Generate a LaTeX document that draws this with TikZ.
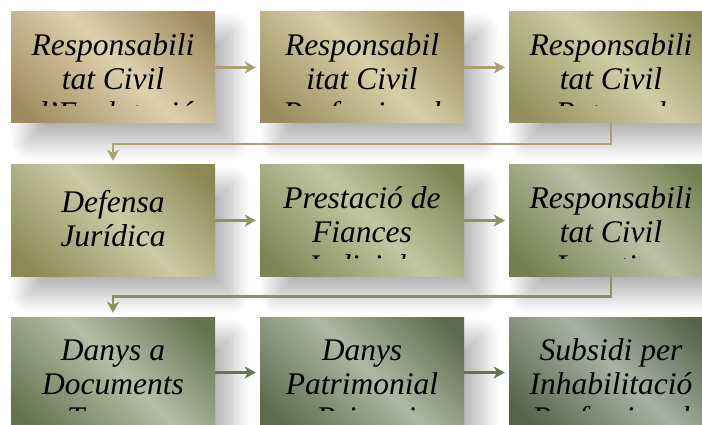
\documentclass[tikz,border=0pt]{standalone}
\usepackage{fontspec}
\setmainfont{Liberation Serif}
\usetikzlibrary{arrows.meta,calc,shadows.blur}

\definecolor{darkone}{RGB}{158,140,96}
\definecolor{lightone}{RGB}{222,209,173}
\definecolor{darktwo}{RGB}{152,140,93}
\definecolor{lighttwo}{RGB}{216,206,166}
\definecolor{darkthree}{RGB}{146,143,92}
\definecolor{lightthree}{RGB}{208,204,164}
\definecolor{darkfour}{RGB}{136,137,84}
\definecolor{lightfour}{RGB}{203,203,167}
\definecolor{darkfive}{RGB}{126,133,84}
\definecolor{lightfive}{RGB}{194,199,162}
\definecolor{darksix}{RGB}{116,127,82}
\definecolor{lightsix}{RGB}{187,192,162}
\definecolor{darkseven}{RGB}{102,116,78}
\definecolor{lightseven}{RGB}{181,189,167}
\definecolor{darkeight}{RGB}{92,107,76}
\definecolor{lighteight}{RGB}{173,183,163}
\definecolor{darknine}{RGB}{84,99,74}
\definecolor{lightnine}{RGB}{167,177,161}
\definecolor{arrowone}{RGB}{172,160,112}
\definecolor{arrowtwo}{RGB}{138,148,92}
\definecolor{arrowthree}{RGB}{102,117,80}
\colorlet{boxdark}{darkone}
\colorlet{boxlight}{lightone}

% soft band across each box
\pgfdeclareverticalshading[boxdark,boxlight]{boxband}{100bp}{%
  color(0bp)=(boxdark); color(20bp)=(boxdark); color(52bp)=(boxlight);
  color(80bp)=(boxdark); color(100bp)=(boxdark)}

\begin{document}
\begin{tikzpicture}[x=1pt,y=-1pt,
    box/.style={minimum width=204pt,minimum height=111pt,inner sep=0pt,
      blur shadow={shadow xshift=17pt,shadow yshift=-19pt,shadow blur radius=18pt,
        shadow blur steps=30,shadow opacity=30}},
    fillbox/.style 2 args={/utils/exec={\colorlet{boxdark}{#1}\colorlet{boxlight}{#2}},
      shading=boxband,shading angle=-45},
    boxtext/.style={anchor=base,align=center,inner sep=0pt,
      font=\itshape\fontsize{31.5}{34}\selectfont},
    flow/.style={line width=2.5pt,-{Stealth[length=11pt,width=12pt,inset=3pt]},shorten >=4pt}]
        \clip (0,0) rectangle (702,425);

        % first row
        \node[box,fillbox={darkone}{lightone}] (b1) at (113,67.5) {};
        \node[box,fillbox={darktwo}{lighttwo}] (b2) at (362,67.5) {};
        \node[box,fillbox={darkthree}{lightthree}] (b3) at (611,67.5) {};
        % second row
        \node[box,fillbox={darkfour}{lightfour}] (b4) at (113,220.5) {};
        \node[box,fillbox={darkfive}{lightfive}] (b5) at (362,220.5) {};
        \node[box,fillbox={darksix}{lightsix}] (b6) at (611,220.5) {};
        % third row
        \node[box,fillbox={darkseven}{lightseven}] (b7) at (113,372.5) {};
        \node[box,fillbox={darkeight}{lighteight}] (b8) at (362,372.5) {};
        \node[box,fillbox={darknine}{lightnine}] (b9) at (611,372.5) {};

        % texts (base = last line), cut off above the bottom of each box
        \begin{scope}
          \clip (b1.north west) rectangle ([yshift=18pt]b1.south east);
          \node[boxtext] (t1) at ([yshift=-111.5pt]b1.north) {Responsabili\\tat Civil\\d'Explotació};
        \end{scope}
        \begin{scope}
          \clip (b2.north west) rectangle ([yshift=18pt]b2.south east);
          \node[boxtext] (t2) at ([yshift=-111.5pt]b2.north) {Responsabil\\itat Civil\\Professional};
        \end{scope}
        \begin{scope}
          \clip (b3.north west) rectangle ([yshift=18pt]b3.south east);
          \node[boxtext] (t3) at ([yshift=-111.5pt]b3.north) {Responsabili\\tat Civil\\Patronal};
        \end{scope}
        \begin{scope}
          \clip (b4.north west) rectangle ([yshift=18pt]b4.south east);
          \node[boxtext] (t4) at ([yshift=-82pt]b4.north) {Defensa\\Jurídica};
        \end{scope}
        \begin{scope}
          \clip (b5.north west) rectangle ([yshift=18pt]b5.south east);
          \node[boxtext] (t5) at ([yshift=-111.5pt]b5.north) {Prestació de\\Fiances\\Judicials};
        \end{scope}
        \begin{scope}
          \clip (b6.north west) rectangle ([yshift=18pt]b6.south east);
          \node[boxtext] (t6) at ([yshift=-111.5pt]b6.north) {Responsabili\\tat Civil\\Locativa};
        \end{scope}
        \begin{scope}
          \clip (b7.north west) rectangle ([yshift=18pt]b7.south east);
          \node[boxtext] (t7) at ([yshift=-111.5pt]b7.north) {Danys a\\Documents\\Tercers};
        \end{scope}
        \begin{scope}
          \clip (b8.north west) rectangle ([yshift=18pt]b8.south east);
          \node[boxtext] (t8) at ([yshift=-111.5pt]b8.north) {Danys\\Patrimonial\\s Primaris};
        \end{scope}
        \begin{scope}
          \clip (b9.north west) rectangle ([yshift=18pt]b9.south east);
          \node[boxtext] (t9) at ([yshift=-111.5pt]b9.north) {Subsidi per\\Inhabilitació\\Professional};
        \end{scope}

        % arrows
        \draw[flow,arrowone] (b1.east) -- (b2.west);
        \draw[flow,arrowone] (b2.east) -- (b3.west);
        \draw[flow,arrowtwo] (b4.east) -- (b5.west);
        \draw[flow,arrowtwo] (b5.east) -- (b6.west);
        \draw[flow,arrowthree] (b7.east) -- (b8.west);
        \draw[flow,arrowthree] (b8.east) -- (b9.west);
        \coordinate (m1) at ($(b3.south)!.5!(b6.north)$);
        \coordinate (m2) at ($(b6.south)!.5!(b9.north)$);
        \draw[flow,arrowone] (b3.south) -- (m1) -| (b4.north);
        \draw[flow,arrowtwo] (b6.south) -- (m2) -| (b7.north);
      \end{tikzpicture}
\end{document}
